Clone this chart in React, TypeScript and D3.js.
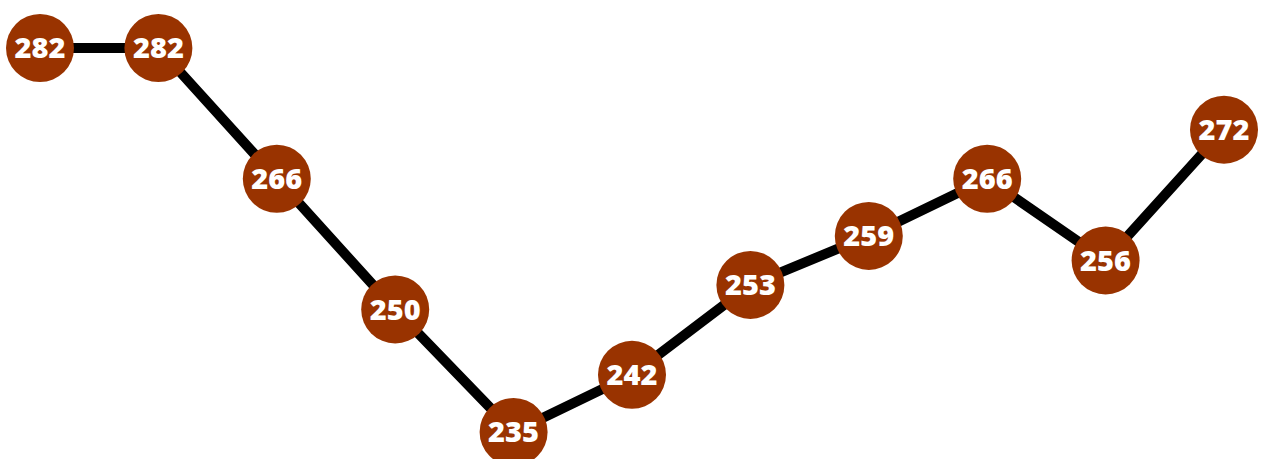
import React from 'react';
import * as d3 from 'd3';

const values = [282, 282, 266, 250, 235, 242, 253, 259, 266, 256, 272];

const width = 1267;
const height = 459;

export default function App() {
  const x = d3.scaleLinear().domain([0, values.length - 1]).range([40, 1224]);
  const y = d3.scaleLinear().domain([235, 282]).range([432, 48]);

  const line = d3.line<number>()
    .x((d, i) => x(i))
    .y(d => y(d));

  return (
    <svg width={width} height={height} style={{position: 'absolute', left: 0, top: 0}}>
      <path d={line(values) || ''} fill="none" stroke="#000" strokeWidth={10} strokeLinejoin="round" />
      {values.map((v, i) => (
        <g key={i} transform={`translate(${x(i)},${y(v)})`}>
          <circle r={34} fill="#993300" />
          <text textAnchor="middle" dy="0.36em" fill="#fff"
                fontFamily="Open Sans" fontWeight="800" fontSize={29}>{v}</text>
        </g>
      ))}
    </svg>
  );
}
